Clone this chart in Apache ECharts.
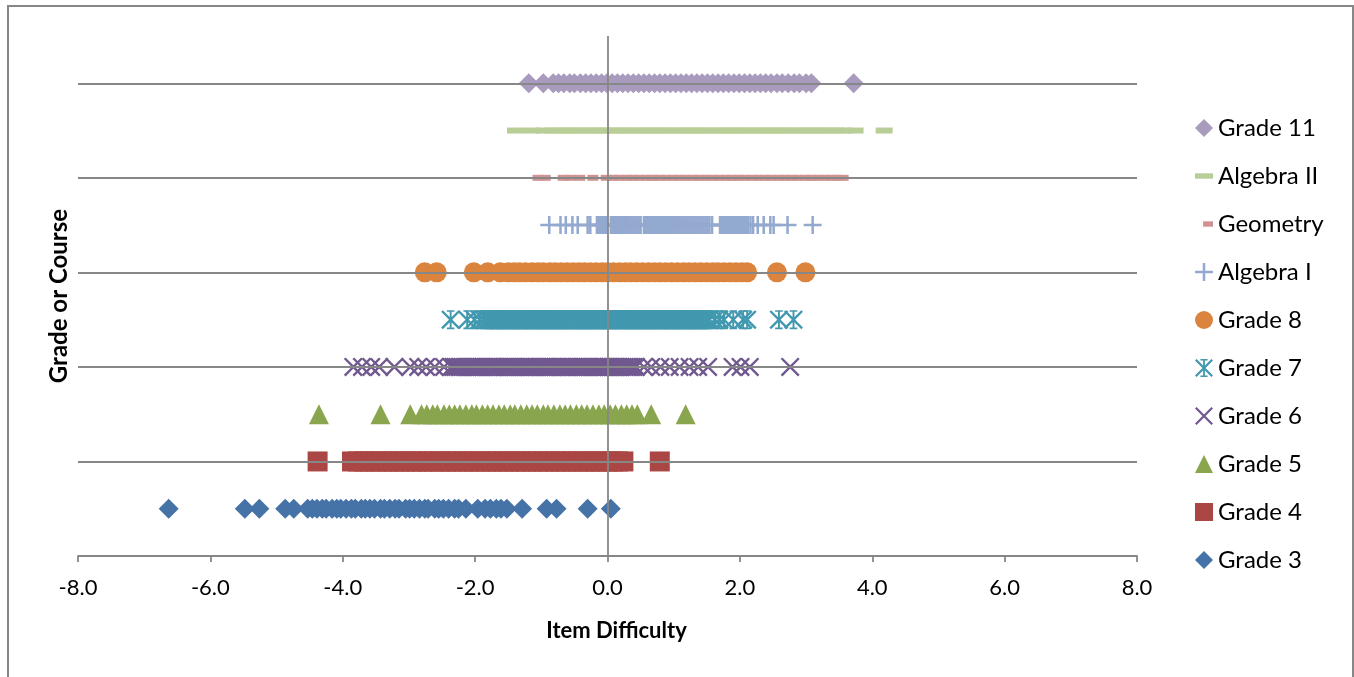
<!DOCTYPE html>
<html>
<head>
<meta charset="utf-8">
<script src="https://cdn.jsdelivr.net/npm/echarts@6/dist/echarts.min.js"></script>
<style>html,body{margin:0;padding:0;background:#fff}#c{width:1354px;height:677px}</style>
</head>
<body>
<div id="c"></div>
<script>
// ---- data ----
const seriesNames = ['Grade 3','Grade 4','Grade 5','Grade 6','Grade 7','Grade 8','Algebra I','Geometry','Algebra II','Grade 11'];
const rowLevels = [1,2,3,4,5,6,7,8,9,10];
const gridLevels = [2,4,6,8,10];
const xTickValues = [-8,-6,-4,-2,0,2,4,6,8];

const grade3 = [-6.63,-5.48,-5.26,-4.87,-4.74,-4.53,-4.46,-4.39,-4.31,-4.25,-4.16,-4.09,-4.03,-3.95,-3.87,-3.81,-3.72,-3.66,-3.59,-3.52,-3.43,-3.37,-3.29,-3.21,-3.15,-3.05,-2.99,-2.92,-2.84,-2.76,-2.71,-2.61,-2.55,-2.48,-2.40,-2.31,-2.25,-2.14,-1.96,-1.85,-1.77,-1.68,-1.61,-1.52,-1.29,-0.92,-0.77,-0.30,0.05];
const grade4 = [-4.38,-3.86,-3.77,-3.68,-3.58,-3.49,-3.41,-3.31,-3.23,-3.15,-3.06,-2.96,-2.89,-2.80,-2.71,-2.62,-2.53,-2.44,-2.37,-2.27,-2.18,-2.10,-2.01,-1.92,-1.83,-1.75,-1.66,-1.57,-1.49,-1.40,-1.31,-1.23,-1.14,-1.05,-0.96,-0.88,-0.79,-0.70,-0.62,-0.53,-0.44,-0.36,-0.27,-0.18,-0.10,-0.01,0.08,0.16,0.24,0.79];
const grade5 = [-4.36,-3.43,-2.98,-2.81,-2.73,-2.64,-2.57,-2.47,-2.39,-2.31,-2.23,-2.14,-2.05,-1.98,-1.89,-1.81,-1.73,-1.64,-1.56,-1.47,-1.40,-1.31,-1.22,-1.14,-1.06,-0.97,-0.90,-0.81,-0.72,-0.64,-0.56,-0.47,-0.39,-0.31,-0.22,-0.13,-0.05,0.04,0.12,0.21,0.29,0.37,0.45,0.66,1.18];
const grade6 = [-3.84,-3.71,-3.57,-3.45,-3.22,-2.98,-2.86,-2.74,-2.61,-2.47,
  -2.36,-2.33,-2.30,-2.27,-2.23,-2.20,-2.17,-2.14,-2.11,-2.07,-2.04,-2.01,-1.98,-1.95,-1.91,-1.88,-1.85,-1.82,-1.79,-1.75,
  -1.72,-1.69,-1.66,-1.63,-1.59,-1.56,-1.53,-1.50,-1.47,-1.43,-1.40,-1.37,-1.34,-1.31,-1.27,-1.24,-1.21,-1.18,-1.15,-1.11,
  -1.08,-1.05,-1.02,-0.99,-0.95,-0.92,-0.89,-0.86,-0.83,-0.79,-0.76,-0.73,-0.70,-0.67,-0.63,-0.60,-0.57,-0.54,-0.51,-0.47,
  -0.44,-0.41,-0.38,-0.35,-0.31,-0.28,-0.25,-0.22,-0.19,-0.15,-0.12,-0.09,-0.06,-0.03,0.01,0.04,0.07,0.10,0.13,0.17,
  0.20,0.23,0.26,0.29,0.33,0.36,0.39,0.43,
  0.55,0.66,0.80,0.94,1.09,1.24,1.37,1.52,1.89,2.01,2.15,2.76];
const grade7 = [-2.37,-2.12,-2.01,-1.93,-1.87,
  -1.82,-1.79,-1.76,-1.73,-1.70,-1.66,-1.63,-1.60,-1.57,-1.54,-1.51,-1.47,-1.44,-1.41,-1.38,-1.35,-1.32,-1.28,-1.25,-1.22,
  -1.19,-1.16,-1.13,-1.09,-1.06,-1.03,-1.00,-0.97,-0.94,-0.90,-0.87,-0.84,-0.81,-0.78,-0.75,-0.71,-0.68,-0.65,-0.62,-0.59,
  -0.56,-0.52,-0.49,-0.46,-0.43,-0.40,-0.37,-0.33,-0.30,-0.27,-0.24,-0.21,-0.18,-0.14,-0.11,-0.08,-0.05,-0.02,0.01,0.05,
  0.08,0.11,0.14,0.17,0.20,0.24,0.27,0.30,0.33,0.36,0.39,0.43,0.46,0.49,0.52,0.55,0.58,0.62,0.65,0.68,0.71,0.74,0.77,0.81,
  0.84,0.87,0.90,0.93,0.96,1.00,1.03,1.06,1.09,1.12,1.15,1.19,1.22,1.25,1.28,1.31,1.34,1.38,1.41,1.44,1.47,1.50,1.54,
  1.62,1.69,1.76,1.90,2.05,2.11,2.59,2.81];
const grade8 = [-2.76,-2.58,-2.02,-1.81,-1.62,-1.50,-1.41,-1.33,-1.24,-1.14,-1.05,-0.97,-0.87,-0.79,-0.70,-0.61,-0.52,-0.43,-0.35,-0.26,-0.17,-0.08,0.00,0.09,0.18,0.27,0.35,0.44,0.53,0.62,0.71,0.79,0.88,0.97,1.06,1.15,1.23,1.32,1.41,1.50,1.59,1.67,1.76,1.85,1.94,2.03,2.11,2.56,2.99];
const algebra1 = [-0.88,-0.71,-0.63,-0.53,-0.45,-0.30,-0.26,
  -0.16,-0.13,-0.10,-0.07,-0.04,-0.01,0.05,0.08,0.11,0.14,0.17,0.20,0.23,0.26,0.29,0.32,0.35,0.38,0.41,0.44,0.47,0.50,
  0.55,0.58,0.61,0.64,0.67,0.70,0.73,0.76,0.79,0.82,0.85,0.88,0.91,0.94,0.97,1.00,1.03,1.06,1.09,1.12,1.15,1.18,1.21,1.24,
  1.27,1.30,1.33,1.36,1.39,1.42,1.45,1.48,1.51,1.54,1.58,
  1.70,1.73,1.76,1.79,1.82,1.85,1.88,1.91,1.94,1.97,2.00,2.03,2.06,2.09,2.12,2.16,2.20,
  2.27,2.36,2.46,2.51,2.72,3.10];
const geometry = [-1.05,-0.94,-0.67,-0.56,-0.42,-0.22,-0.02,0.08,0.18,0.29,0.38,0.48,0.59,0.68,0.78,0.88,0.99,1.08,1.18,1.28,1.39,1.48,1.58,1.68,1.79,1.88,1.98,2.08,2.19,2.28,2.38,2.48,2.59,2.68,2.78,2.88,2.99,3.08,3.18,3.28,3.38,3.47,3.56];
const algebra2 = [-1.39,-1.14,-0.95,-0.82,-0.70,-0.58,-0.46,-0.33,-0.21,-0.09,0.03,0.15,0.27,0.40,0.52,0.64,0.76,0.88,1.01,1.13,1.25,1.37,1.49,1.62,1.74,1.86,1.98,2.10,2.23,2.35,2.47,2.59,2.71,2.84,2.96,3.08,3.20,3.32,3.45,3.57,3.74,4.18];
const grade11 = [-1.19,-0.97,-0.82,-0.74,-0.66,-0.57,-0.50,-0.41,-0.33,-0.25,-0.17,-0.09,-0.01,0.07,0.15,0.23,0.31,0.39,0.47,0.55,0.63,0.71,0.79,0.87,0.95,1.03,1.11,1.19,1.27,1.35,1.43,1.51,1.59,1.67,1.75,1.83,1.91,1.99,2.07,2.15,2.23,2.31,2.39,2.47,2.56,2.64,2.73,2.82,2.90,3.00,3.08,3.72];

const seriesValues = [grade3, grade4, grade5, grade6, grade7, grade8, algebra1, geometry, algebra2, grade11];

// ---- styles ----
const colors = ['#4572A7','#AA4643','#89A54E','#71588F','#4198AF','#DB843D','#93A9CF','#D19392','#B9CD96','#A99BBD'];
const PLUS = 'path://M0,8.6L20,8.6L20,11.4L0,11.4Z M8.6,0L11.4,0L11.4,20L8.6,20Z';
const XMARK = 'path://M1.8,0L20,18.2L18.2,20L0,1.8Z M18.2,0L20,1.8L1.8,20L0,18.2Z';
const STAR = 'path://M1.8,0L20,18.2L18.2,20L0,1.8Z M18.2,0L20,1.8L1.8,20L0,18.2Z M9,0L11,0L11,20L9,20Z M6,0L14,0L14,1.8L6,1.8Z M6,18.2L14,18.2L14,20L6,20Z';
const DASH_LONG = 'path://M0,0M20,20M0,7L20,7L20,13L0,13Z';
const DASH_SHORT = 'path://M0,0M20,20M9,7L20,7L20,13L9,13Z';
const symbols = ['diamond','rect','triangle',XMARK,STAR,'circle',PLUS,'rect','rect','diamond'];
const sizes = [20,20,20,19,19,20,18,[11,6],[17,6],20];
const legendIcons = ['diamond','rect','triangle',XMARK,STAR,'circle',PLUS,DASH_SHORT,DASH_LONG,'diamond'];

const FONT = 'Lato';
const series = [{
  type: 'scatter', name: 'grid', data: [], z: 1, silent: true,
  markLine: {
    silent: true, symbol: ['none','none'], label: {show: false}, animation: false,
    lineStyle: {color: '#878787', width: 1.8, type: 'solid'},
    data: gridLevels.map(v => ({yAxis: v})).concat([{xAxis: 0}])
  }
}];
seriesNames.forEach((n, i) => {
  series.push({
    type: 'scatter', name: n, z: 2,
    symbol: symbols[i], symbolSize: sizes[i],
    itemStyle: {color: colors[i], opacity: 1},
    data: seriesValues[i].map(v => [v, rowLevels[i]])
  });
});

const legendData = seriesNames.map((n, i) => ({name: n, icon: legendIcons[i]})).reverse();

const chart = echarts.init(document.getElementById('c'));
chart.setOption({
  animation: false,
  backgroundColor: '#fff',
  color: colors,
  grid: {left: 78, right: 217, top: 36, bottom: 121, containLabel: false},
  xAxis: {
    type: 'value', min: -8, max: 8, interval: 2,
    axisLine: {onZero: false, lineStyle: {color: '#878787', width: 1.8}},
    axisTick: {show: true, length: 6, lineStyle: {color: '#878787', width: 1.8}},
    axisLabel: {formatter: v => xTickValues.includes(v) ? v.toFixed(1) : '', fontFamily: FONT, fontSize: 22, color: '#000', margin: 21},
    splitLine: {show: false},
    name: 'Item Difficulty', nameLocation: 'middle', nameGap: 64,
    nameTextStyle: {fontFamily: FONT, fontWeight: 'bold', fontSize: 22, color: '#000', padding: [0, 0, 0, 18]}
  },
  yAxis: {
    type: 'value', min: 0, max: 11,
    axisLine: {show: false, onZero: false},
    axisTick: {show: false}, axisLabel: {show: false}, splitLine: {show: false},
    name: 'Grade or Course', nameLocation: 'middle', nameGap: 7,
    nameTextStyle: {fontFamily: FONT, fontWeight: 'bold', fontSize: 24, color: '#000'}
  },
  legend: {
    orient: 'vertical', left: 1190, top: 111,
    itemWidth: 18, itemHeight: 18, itemGap: 24,
    textStyle: {fontFamily: FONT, fontSize: 24, color: '#000', lineHeight: 24},
    data: legendData
  },
  graphic: [{
    type: 'rect', silent: true, z: -10,
    shape: {x: 8, y: 6, width: 1345, height: 700},
    style: {fill: 'none', stroke: '#878787', lineWidth: 2}
  }],
  series: series
});
</script>
</body>
</html>
